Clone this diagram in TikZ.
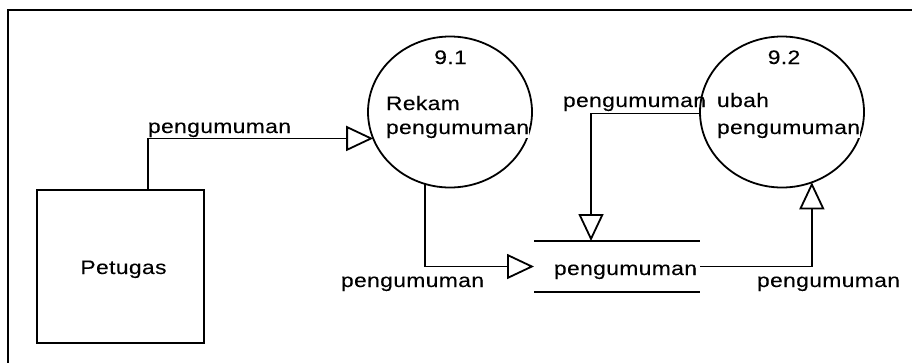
\documentclass[tikz,border=0pt]{standalone}
\usepackage{fontspec}
\setmainfont[FakeStretch=1.17,LetterSpace=2,FakeBold=0.2]{Liberation Sans}
\usetikzlibrary{arrows.meta,shapes.geometric}
\begin{document}
\begin{tikzpicture}[x=1pt,y=-1pt,
  every node/.style={font=\fontsize{19.5}{23}\selectfont, inner sep=0pt, outer sep=0pt},
  ln/.style={line width=1.8pt},
  proc/.style={ellipse, draw, ln, minimum width=164pt, minimum height=151pt},
  ext/.style={rectangle, draw, ln, minimum width=167pt, minimum height=153pt},
  storebox/.style={minimum width=166pt, minimum height=51pt},
  flow/.style={ln, -{Triangle[open, length=27pt, width=25pt, line width=1.8pt]}},
  lbl/.style={anchor=base west},
  ptxt/.style={anchor=base west, fill=white}
]
\useasboundingbox (0,0) rectangle (912,362);
% outer frame (right and bottom edges outside the picture)
\draw[ln] (8,380) -- (8,10) -- (930,10);

% external entity
\node[ext] (pet) at (120.5,266.5) {};
\node[anchor=base] (petl) at (123.5,274) {Petugas};

% process 9.1
\node[proc] (p1) at (450,112) {};
\node[anchor=base] (p1n) at (450.5,64) {9.1};
\node[ptxt] (p1a) at (386,110) {Rekam};
\node[ptxt] (p1b) at (386,134) {pengumuman};

% process 9.2
\node[proc] (p2) at (782,112) {};
\node[anchor=base] (p2n) at (784,64) {9.2};
\node[ptxt] (p2a) at (717,107) {ubah};
\node[ptxt] (p2b) at (717,134) {pengumuman};

% data store
\node[storebox] (st) at (617,266.5) {};
\draw[ln] (st.north west) -- (st.north east) (st.south west) -- (st.south east);
\node[anchor=base] (stl) at (625.5,275) {pengumuman};

% flows
\draw[flow] ([xshift=27.5pt]pet.north) |- (p1.199.4);
\node[lbl] (f1) at (148,133) {pengumuman};

\draw[flow] (p1.251) |- (st.west);
\node[lbl] (f2) at (341,287) {pengumuman};

\draw[flow] (st.east) -| (p2.293.3);
\node[lbl] (f3) at (757,287) {pengumuman};

\draw[flow] (p2.181.4) -| ([xshift=-26pt]st.north);
\node[lbl] (f4) at (563,107) {pengumuman};
\end{tikzpicture}
\end{document}
